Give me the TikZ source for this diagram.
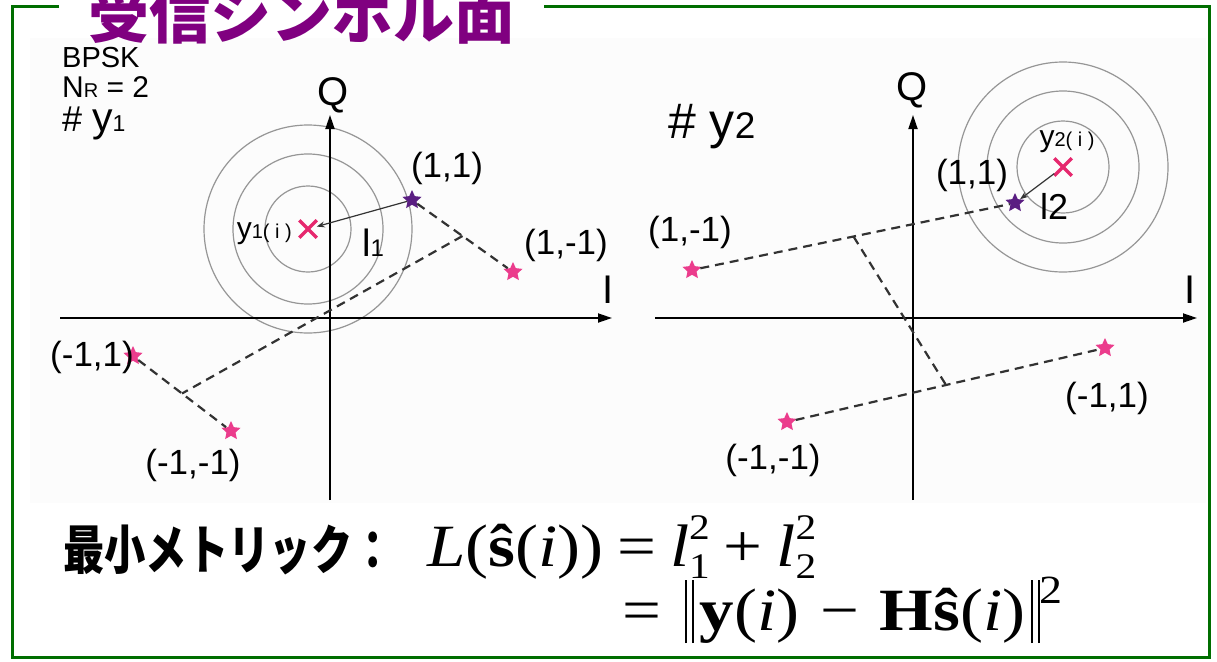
\documentclass[tikz,border=0pt]{standalone}
\usepackage{fontspec}
\setmainfont{Liberation Sans}
\newfontfamily\jp{Noto Sans CJK JP}
\newfontfamily\tms{Liberation Serif}
\usetikzlibrary{shapes.geometric,shapes.misc,calc,arrows.meta}
\definecolor{frameg}{RGB}{0,110,0}
\definecolor{titlep}{RGB}{128,0,128}
\definecolor{starpink}{RGB}{235,60,140}
\definecolor{starpurple}{RGB}{90,30,130}
\definecolor{crosspink}{RGB}{230,40,110}
\definecolor{ringgray}{RGB}{150,150,150}
\definecolor{dashgray}{RGB}{50,50,50}
\definecolor{panelbg}{RGB}{252,252,252}
\newcommand{\supsub}[2]{\makebox[0pt][l]{\raisebox{0.44em}{\fontsize{36}{36}\selectfont #1}}\raisebox{-0.2em}{\fontsize{36}{36}\selectfont #2}}
\newcommand{\nrm}{\rule[-0.22em]{0.03em}{1.05em}\hspace{0.07em}\rule[-0.22em]{0.03em}{1.05em}}
\begin{document}
\begin{tikzpicture}[x=1pt,y=-1pt,
 axis/.style={line width=1.8pt, -{Triangle[length=14pt,width=9pt]}},
 ring/.style={draw=ringgray, line width=1.2pt},
 dashline/.style={draw=dashgray, line width=2.2pt, dash pattern=on 9pt off 6pt},
 pstar/.style={star, star points=5, star point ratio=2.1, fill=starpink, inner sep=0pt, minimum size=20pt},
 ustar/.style={pstar, fill=starpurple},
 xmark/.style={cross out, draw=crosspink, line width=3.5pt, minimum size=14pt, inner sep=0pt},
 lbl/.style={font=\fontsize{35}{35}\selectfont, inner sep=0pt},
 axlbl/.style={font=\fontsize{40}{40}\selectfont, inner sep=0pt},
 dist/.style={line width=1.2pt, draw=black!80, -{Stealth[length=8pt,width=6pt]}}
]
\useasboundingbox (0,0) rectangle (1217,661);
\clip (0,0) rectangle (1217,661);
\fill[panelbg] (30,38) rectangle (1206,503);
\draw[frameg, line width=3pt] (59,7) -- (12,7) -- (12,657) -- (1209,657) -- (1209,7) -- (544,7);
\node[anchor=base west, text=titlep, font=\jp\bfseries\fontsize{61}{61}\selectfont, inner sep=0pt] (title) at (88,38) {受信シンボル面};

% ---------- left panel ----------
\node[anchor=base west, font=\fontsize{29}{29}\selectfont, inner sep=0pt] (bpsk) at (62,67) {BPSK};
\node[anchor=base west, font=\fontsize{30}{30}\selectfont, inner sep=0pt] (nr) at (62,97) {N{\fontsize{20}{20}\selectfont R} = 2};
\node[anchor=base west, inner sep=0pt] (hy1) at (62,131) {{\fontsize{36}{36}\selectfont \#}\hspace{10pt}{\fontsize{41}{41}\selectfont y}{\fontsize{23}{23}\selectfont 1}};

\coordinate (c1pos) at (308,229);
\foreach \r in {43,75,104} \draw[ring] (c1pos) circle (\r);
\coordinate (ax1w) at (60,318);
\coordinate (ax1e) at (612,318);
\coordinate (ax1s) at (330,500);
\coordinate (ax1n) at (330,115);
\draw[axis] (ax1w) -- (ax1e);
\draw[axis] (ax1s) -- (ax1n);
\node[axlbl] (q1) at (333,95) {Q};
\node[axlbl] (i1) at (608,290) {I};

\node[ustar] (s1a) at (412,200) {};
\node[pstar] (s1b) at (513,272) {};
\node[pstar] (s1c) at (133,356) {};
\node[pstar] (s1d) at (231,431) {};
\coordinate (m1) at ($(s1a)!0.5!(s1b)$);
\coordinate (m2) at ($(s1c)!0.5!(s1d)$);
\draw[dashline] (s1a) -- (s1b);
\draw[dashline] (s1c) -- (s1d);
\draw[dashline] (m1) -- (m2);
\node[xmark] (c1) at (c1pos) {};
\draw[dist] (s1a) -- (c1);

\node[lbl] (l11) at (447,168) {(1,1)};
\node[lbl] (l1m) at (566,245) {(1,-1)};
\node[lbl] (lm1) at (92,357) {(-1,1)};
\node[lbl] (lmm) at (193,465) {(-1,-1)};
\node[anchor=base east, inner sep=0pt] (y1i) at (292,238) {{\fontsize{30}{30}\selectfont y}{\fontsize{20}{20}\selectfont 1( i )}};
\node[anchor=base west, inner sep=0pt] (ell1) at (362,256) {{\fontsize{38}{38}\selectfont l}{\fontsize{24}{24}\selectfont 1}};

% ---------- right panel ----------
\node[anchor=base west, inner sep=0pt] (hy2) at (668,138) {{\fontsize{50}{50}\selectfont \# y}{\fontsize{37}{37}\selectfont 2}};
\coordinate (c2pos) at (1063,167);
\foreach \r in {46,76,105} \draw[ring] (c2pos) circle (\r);
\coordinate (ax2w) at (655,318);
\coordinate (ax2e) at (1197,318);
\coordinate (ax2s) at (913,500);
\coordinate (ax2n) at (913,115);
\draw[axis] (ax2w) -- (ax2e);
\draw[axis] (ax2s) -- (ax2n);
\node[axlbl] (q2) at (912,90) {Q};
\node[axlbl] (i2) at (1190,290) {I};

\node[ustar] (s2a) at (1015,203) {};
\node[pstar] (s2b) at (692,270) {};
\node[pstar] (s2c) at (1105,348) {};
\node[pstar] (s2d) at (787,422) {};
\coordinate (m3) at ($(s2a)!0.5!(s2b)$);
\coordinate (m4) at ($(s2c)!0.5!(s2d)$);
\draw[dashline] (s2b) -- (s2a);
\draw[dashline] (s2d) -- (s2c);
\draw[dashline] (m3) -- (m4);
\node[xmark] (c2) at (c2pos) {};
\draw[dist] (c2) -- (s2a);

\node[lbl] (r11) at (972,175) {(1,1)};
\node[lbl] (r1m) at (690,232) {(1,-1)};
\node[lbl] (rm1) at (1107,398) {(-1,1)};
\node[lbl] (rmm) at (773,460) {(-1,-1)};
\node[anchor=base, inner sep=0pt] (y2i) at (1067,146) {{\fontsize{30}{30}\selectfont y}{\fontsize{20}{20}\selectfont 2( i )}};
\node[anchor=base west, inner sep=0pt] (ell2) at (1040,219) {{\fontsize{36}{36}\selectfont l2}};

% ---------- formula ----------
\node[anchor=base west, font=\jp\bfseries\fontsize{53}{53}\selectfont, inner sep=0pt] (jpm) at (63,569) {\scalebox{0.78}[1]{最小メトリック：}};
\node[anchor=base west, font=\tms\fontsize{60}{60}\selectfont, inner sep=0pt] (f1) at (427,566)
 {\scalebox{1.15}[1]{\textit{L}(\textbf{ŝ}(\textit{i}))\hspace{0.2em}=\hspace{0.2em}\textit{l}\supsub{2}{1}\hspace{0.2em}+\hspace{0.2em}\textit{l}\supsub{2}{2}}};
\node[anchor=base west, font=\tms\fontsize{60}{60}\selectfont, inner sep=0pt] (f2) at (622,630)
 {\scalebox{1.15}[1]{=\hspace{0.35em}\nrm\hspace{0.08em}\textbf{y}(\textit{i})\hspace{0.3em}−\hspace{0.3em}\textbf{Hŝ}(\textit{i})\hspace{0.08em}\nrm\raisebox{0.45em}{\fontsize{40}{40}\selectfont 2}}};
\end{tikzpicture}
\end{document}
